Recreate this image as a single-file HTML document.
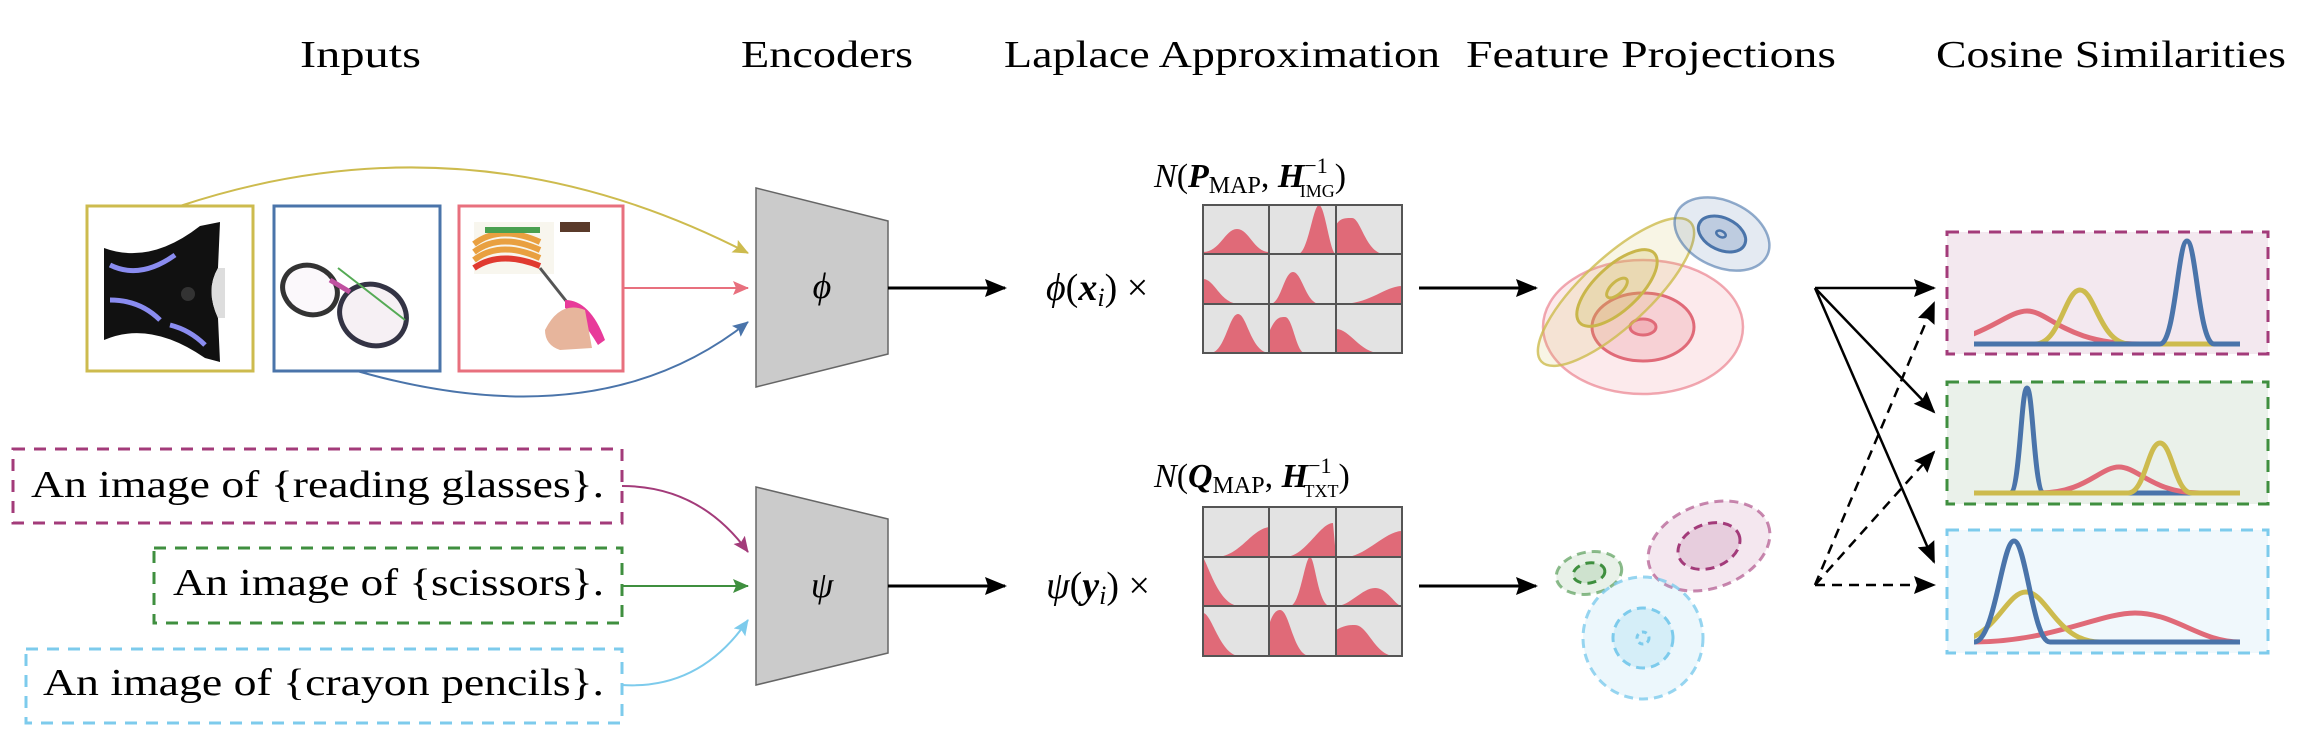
<!DOCTYPE html>
<html><head><meta charset="utf-8"><style>
html,body{margin:0;padding:0;background:#fff;width:2310px;height:742px;overflow:hidden}
text{font-family:"Liberation Serif",serif;fill:#000}
</style></head><body>
<svg width="2310" height="742" viewBox="0 0 2310 742" xmlns="http://www.w3.org/2000/svg">
<defs>
<marker id="ak" markerWidth="10" markerHeight="10" refX="9" refY="5" orient="auto" markerUnits="userSpaceOnUse" viewBox="0 0 10 10"><path d="M0,0 L10,5 L0,10 z" fill="#000"/></marker>
<marker id="akb" markerWidth="22" markerHeight="18" refX="20" refY="9" orient="auto" markerUnits="userSpaceOnUse" viewBox="0 0 22 18"><path d="M0,0 L22,9 L0,18 L3,9 z" fill="#000"/></marker>
<marker id="ay" markerWidth="16" markerHeight="14" refX="15" refY="7" orient="auto" markerUnits="userSpaceOnUse"><path d="M0,0 L16,7 L0,14 L3,7 z" fill="#cdbb4e"/></marker>
<marker id="ab" markerWidth="16" markerHeight="14" refX="15" refY="7" orient="auto" markerUnits="userSpaceOnUse"><path d="M0,0 L16,7 L0,14 L3,7 z" fill="#4a74aa"/></marker>
<marker id="ap" markerWidth="16" markerHeight="14" refX="15" refY="7" orient="auto" markerUnits="userSpaceOnUse"><path d="M0,0 L16,7 L0,14 L3,7 z" fill="#e8707e"/></marker>
<marker id="am" markerWidth="16" markerHeight="14" refX="15" refY="7" orient="auto" markerUnits="userSpaceOnUse"><path d="M0,0 L16,7 L0,14 L3,7 z" fill="#a33b7a"/></marker>
<marker id="ag" markerWidth="16" markerHeight="14" refX="15" refY="7" orient="auto" markerUnits="userSpaceOnUse"><path d="M0,0 L16,7 L0,14 L3,7 z" fill="#3f8f3f"/></marker>
<marker id="ac" markerWidth="16" markerHeight="14" refX="15" refY="7" orient="auto" markerUnits="userSpaceOnUse"><path d="M0,0 L16,7 L0,14 L3,7 z" fill="#7dcbec"/></marker>
<clipPath id="plot1"><rect x="1974" y="230" width="266" height="125"/></clipPath>
<clipPath id="plot2"><rect x="1974" y="380" width="266" height="125"/></clipPath>
<clipPath id="plot3"><rect x="1974" y="528" width="266" height="125"/></clipPath>
</defs>

<!-- Titles -->
<text x="300" y="67" font-size="38" textLength="121" lengthAdjust="spacingAndGlyphs">Inputs</text>
<text x="741" y="67" font-size="38" textLength="172" lengthAdjust="spacingAndGlyphs">Encoders</text>
<text x="1004" y="67" font-size="38" textLength="436" lengthAdjust="spacingAndGlyphs">Laplace Approximation</text>
<text x="1466" y="67" font-size="38" textLength="370" lengthAdjust="spacingAndGlyphs">Feature Projections</text>
<text x="1936" y="67" font-size="38" textLength="350" lengthAdjust="spacingAndGlyphs">Cosine Similarities</text>

<!-- Image boxes -->
<rect x="87" y="206" width="166" height="165" fill="#fff" stroke="#cdbb4e" stroke-width="3"/>
<rect x="274" y="206" width="166" height="165" fill="#fff" stroke="#4a74aa" stroke-width="3"/>
<rect x="459" y="206" width="164" height="165" fill="#fff" stroke="#e8707e" stroke-width="3"/>
<!-- knife-ish -->
<path d="M104,248 Q150,265 200,226 L220,222 L218,268 Q205,290 218,318 L220,362 L205,358 Q150,320 104,340 Z" fill="#111"/>
<path d="M110,265 Q140,280 175,255 M110,300 Q140,300 160,320 M170,325 Q190,330 205,345" stroke="#8a8cf0" stroke-width="5" fill="none"/>
<circle cx="188" cy="294" r="7" fill="#333"/>
<path d="M218,268 Q205,290 218,318 L225,318 L225,268 Z" fill="#ddd"/>
<!-- glasses -->
<ellipse cx="310" cy="290" rx="28" ry="24" fill="#fbf8fb" stroke="#333" stroke-width="5" transform="rotate(25 310 290)"/>
<ellipse cx="373" cy="315" rx="34" ry="30" fill="#f6f0f4" stroke="#334" stroke-width="5" transform="rotate(25 373 315)"/>
<path d="M330,280 L350,292" stroke="#c050a0" stroke-width="5"/>
<path d="M338,268 L405,320" stroke="#5a5" stroke-width="2"/>
<!-- scissors/crayons image -->
<rect x="474" y="222" width="80" height="52" fill="#f8f6ee"/>
<path d="M474,260 Q500,240 540,258 M474,252 Q500,232 540,250 M474,244 Q500,224 540,242" stroke-width="6" fill="none" stroke="#e9a040"/>
<path d="M474,268 Q500,250 540,266" stroke="#e03a30" stroke-width="6" fill="none"/>
<path d="M485,230 L540,230" stroke="#4aa050" stroke-width="6"/>
<rect x="560" y="222" width="30" height="10" fill="#5a3a2a"/>
<path d="M540,268 L578,316" stroke="#555" stroke-width="3"/>
<path d="M565,300 Q590,300 605,340 L598,345 Q580,315 565,308 Z" fill="#e83a9a"/>
<path d="M545,330 Q560,300 585,310 L592,348 L560,350 Q545,345 545,330 Z" fill="#e7b59c"/>

<!-- input arrows -->
<path d="M180,206 Q470,110 748,253" stroke="#cdbb4e" stroke-width="2" fill="none" marker-end="url(#ay)"/>
<path d="M623,288 L748,288" stroke="#e8707e" stroke-width="2" fill="none" marker-end="url(#ap)"/>
<path d="M357,371 Q600,440 748,322" stroke="#4a74aa" stroke-width="2" fill="none" marker-end="url(#ab)"/>

<!-- Encoders -->
<polygon points="756,188 888,221 888,354 756,387" fill="#cbcbcb" stroke="#666" stroke-width="1.5"/>
<text x="822" y="298" font-size="36" font-style="italic" text-anchor="middle">ϕ</text>
<polygon points="756,487 888,519 888,653 756,685" fill="#cbcbcb" stroke="#666" stroke-width="1.5"/>
<text x="822" y="597" font-size="36" font-style="italic" text-anchor="middle">ψ</text>
<path d="M888,288 L1005,288" stroke="#000" stroke-width="3" marker-end="url(#akb)"/>
<path d="M888,586 L1005,586" stroke="#000" stroke-width="3" marker-end="url(#akb)"/>

<!-- Text boxes -->
<rect x="13" y="449" width="609" height="74" fill="none" stroke="#a33b7a" stroke-width="3" stroke-dasharray="12,9"/>
<rect x="154" y="548" width="468" height="75" fill="none" stroke="#3f8f3f" stroke-width="3" stroke-dasharray="12,9"/>
<rect x="26" y="649" width="596" height="74" fill="none" stroke="#7dcbec" stroke-width="3" stroke-dasharray="12,9"/>
<text x="31" y="497" font-size="38" textLength="573" lengthAdjust="spacingAndGlyphs">An image of {reading glasses}.</text>
<text x="173" y="595" font-size="38" textLength="431" lengthAdjust="spacingAndGlyphs">An image of {scissors}.</text>
<text x="43" y="695" font-size="38" textLength="561" lengthAdjust="spacingAndGlyphs">An image of {crayon pencils}.</text>
<path d="M622,486 Q700,486 748,552" stroke="#a33b7a" stroke-width="2" fill="none" marker-end="url(#am)"/>
<path d="M622,586 L748,586" stroke="#3f8f3f" stroke-width="2" fill="none" marker-end="url(#ag)"/>
<path d="M622,685 Q700,690 748,620" stroke="#7dcbec" stroke-width="2" fill="none" marker-end="url(#ac)"/>

<!-- Laplace -->
<text x="1046" y="300" font-size="38"><tspan font-style="italic">ϕ</tspan>(<tspan font-weight="bold" font-style="italic">x</tspan><tspan font-style="italic" font-size="26" dy="6">i</tspan><tspan dy="-6">) ×</tspan></text>
<text x="1046" y="598" font-size="38"><tspan font-style="italic">ψ</tspan>(<tspan font-weight="bold" font-style="italic">y</tspan><tspan font-style="italic" font-size="26" dy="6">i</tspan><tspan dy="-6">) ×</tspan></text>
<text x="1154" y="187" font-size="34"><tspan font-style="italic">N</tspan>(<tspan font-weight="bold" font-style="italic">P</tspan><tspan font-size="24" dy="6">MAP</tspan><tspan dy="-6">, </tspan><tspan font-weight="bold" font-style="italic">H</tspan><tspan font-size="22" dy="-14">−1</tspan><tspan font-size="18" dx="-28" dy="24">IMG</tspan><tspan dy="-10">)</tspan></text>
<text x="1154" y="487" font-size="34"><tspan font-style="italic">N</tspan>(<tspan font-weight="bold" font-style="italic">Q</tspan><tspan font-size="24" dy="6">MAP</tspan><tspan dy="-6">, </tspan><tspan font-weight="bold" font-style="italic">H</tspan><tspan font-size="22" dy="-14">−1</tspan><tspan font-size="18" dx="-28" dy="24">TXT</tspan><tspan dy="-10">)</tspan></text>

<!-- grid top -->
<g>
<rect x="1203" y="205" width="199" height="148" fill="#e3e3e3"/>
<g fill="#e06a78">
<path d="M1203,254 L1203,252 C1220,252 1225,229 1237,229 C1249,229 1254,252 1269,252 L1269,254 Z"/>
<path d="M1298,254 C1308,254 1313,205 1319,205 C1325,205 1330,254 1336,254 Z"/>
<path d="M1336,254 L1336,225 C1340,218 1345,218 1352,218 C1361,218 1366,254 1385,254 Z"/>
<path d="M1203,304 L1203,279 C1215,279 1220,304 1240,304 Z"/>
<path d="M1270,304 C1281,304 1284,272 1293,272 C1302,272 1306,304 1320,304 Z"/>
<path d="M1340,304 C1370,304 1385,286 1402,286 L1402,304 Z"/>
<path d="M1210,353 C1225,353 1229,314 1238,314 C1247,314 1251,353 1270,353 Z"/>
<path d="M1270,353 L1270,330 C1276,317 1280,317 1285,317 C1293,317 1296,353 1305,353 Z"/>
<path d="M1336,353 L1336,329 C1350,329 1360,353 1380,353 Z"/>
</g>
<g stroke="#555" stroke-width="2" fill="none">
<rect x="1203" y="205" width="199" height="148"/>
<path d="M1269,205 V353 M1336,205 V353 M1203,254 H1402 M1203,304 H1402"/>
</g>
</g>
<!-- grid bottom -->
<g>
<rect x="1203" y="507" width="199" height="149" fill="#e3e3e3"/>
<g fill="#e06a78">
<path d="M1215,557 C1240,557 1250,530 1269,527 L1269,557 Z"/>
<path d="M1285,557 C1305,557 1320,523 1333,523 L1336,557 Z"/>
<path d="M1345,557 C1365,557 1385,531 1402,531 L1402,557 Z"/>
<path d="M1203,606 L1203,557 C1210,570 1220,606 1240,606 Z"/>
<path d="M1290,606 C1300,606 1305,557 1310,557 C1315,557 1318,606 1330,606 Z"/>
<path d="M1336,606 C1350,606 1362,588 1375,588 C1388,588 1395,606 1402,606 Z"/>
<path d="M1203,656 L1203,613 C1212,613 1220,656 1240,656 Z"/>
<path d="M1269,656 L1269,625 C1273,612 1277,610 1280,610 C1290,610 1293,656 1310,656 Z"/>
<path d="M1336,656 L1336,630 C1345,625 1350,625 1355,625 C1368,625 1375,656 1395,656 Z"/>
</g>
<g stroke="#555" stroke-width="2" fill="none">
<rect x="1203" y="507" width="199" height="149"/>
<path d="M1269,507 V656 M1336,507 V656 M1203,557 H1402 M1203,606 H1402"/>
</g>
</g>
<path d="M1419,288 L1536,288" stroke="#000" stroke-width="3" marker-end="url(#akb)"/>
<path d="M1419,586 L1536,586" stroke="#000" stroke-width="3" marker-end="url(#akb)"/>

<!-- Feature projections top -->
<g stroke-width="2.5">
<ellipse cx="1643" cy="327" rx="100" ry="67" fill="#e8707e" fill-opacity="0.15" stroke="#e8707e" stroke-opacity="0.6"/>
<ellipse cx="1643" cy="327" rx="51" ry="34" fill="#e8707e" fill-opacity="0.2" stroke="#e06a78" stroke-width="3"/>
<ellipse cx="1643" cy="327" rx="13" ry="8" fill="#e8707e" fill-opacity="0.3" stroke="#e06a78" stroke-width="3"/>
<ellipse cx="1616" cy="292" rx="102" ry="34" transform="rotate(-43 1616 292)" fill="#cdbb4e" fill-opacity="0.15" stroke="#cdbb4e" stroke-opacity="0.8"/>
<ellipse cx="1617" cy="288" rx="51" ry="22" transform="rotate(-43 1617 288)" fill="#cdbb4e" fill-opacity="0.25" stroke="#c9b64a" stroke-width="3"/>
<ellipse cx="1617" cy="288" rx="13" ry="6" transform="rotate(-43 1617 288)" fill="none" stroke="#c9b64a" stroke-width="3"/>
<ellipse cx="1722" cy="234" rx="50" ry="33" transform="rotate(25 1722 234)" fill="#4a74aa" fill-opacity="0.15" stroke="#4a74aa" stroke-opacity="0.6"/>
<ellipse cx="1722" cy="234" rx="25" ry="16" transform="rotate(25 1722 234)" fill="#4a74aa" fill-opacity="0.25" stroke="#4a74aa" stroke-width="3"/>
<ellipse cx="1721" cy="234" rx="5" ry="3" transform="rotate(25 1721 234)" fill="none" stroke="#4a74aa" stroke-width="2.5"/>
</g>
<!-- bottom -->
<g stroke-width="3" stroke-dasharray="9,6">
<ellipse cx="1589" cy="573" rx="33" ry="21" transform="rotate(-10 1589 573)" fill="#3f8f3f" fill-opacity="0.12" stroke="#3f8f3f" stroke-opacity="0.6"/>
<ellipse cx="1589" cy="573" rx="16" ry="10" transform="rotate(-10 1589 573)" fill="#3f8f3f" fill-opacity="0.15" stroke="#3f8f3f"/>
<ellipse cx="1709" cy="546" rx="63" ry="42" transform="rotate(-20 1709 546)" fill="#a33b7a" fill-opacity="0.12" stroke="#a33b7a" stroke-opacity="0.6"/>
<ellipse cx="1709" cy="546" rx="32" ry="22" transform="rotate(-20 1709 546)" fill="#a33b7a" fill-opacity="0.15" stroke="#a33b7a"/>
<ellipse cx="1643" cy="638" rx="60" ry="61" fill="#7dcbec" fill-opacity="0.15" stroke="#7dcbec" stroke-opacity="0.8"/>
<ellipse cx="1643" cy="638" rx="30" ry="30" fill="#7dcbec" fill-opacity="0.2" stroke="#7dcbec"/>
<ellipse cx="1643" cy="638" rx="6" ry="6" fill="none" stroke="#7dcbec" stroke-dasharray="5,4"/>
</g>

<!-- similarity arrows -->
<g stroke="#000" stroke-width="2.5" fill="none">
<path d="M1815,288 L1934,288" marker-end="url(#akb)"/>
<path d="M1815,288 L1934,412" marker-end="url(#akb)"/>
<path d="M1815,288 L1934,562" marker-end="url(#akb)"/>
<path d="M1815,585 L1934,585" stroke-dasharray="10,7" marker-end="url(#akb)"/>
<path d="M1815,585 L1934,452" stroke-dasharray="10,7" marker-end="url(#akb)"/>
<path d="M1815,585 L1934,303" stroke-dasharray="10,7" marker-end="url(#akb)"/>
</g>

<!-- similarity boxes -->
<rect x="1947" y="232" width="321" height="122" fill="#f3e8ef" stroke="#a33b7a" stroke-width="3" stroke-dasharray="12,9"/>
<rect x="1947" y="382" width="321" height="122" fill="#eaf1ea" stroke="#3f8f3f" stroke-width="3" stroke-dasharray="12,9"/>
<rect x="1947" y="530" width="321" height="123" fill="#f0f8fc" stroke="#7dcbec" stroke-width="3" stroke-dasharray="12,9"/>

<g fill="none" stroke-width="5" stroke-linecap="round">
<g clip-path="url(#plot1)">
<path d="M1920,344 C1980,344 2005,311 2027,311 C2049,311 2065,344 2140,344 L2240,344" stroke="#e06a78"/>
<path d="M1974,344 L2035,344 C2060,344 2065,290 2080,290 C2095,290 2100,344 2130,344 L2240,344" stroke="#cdbb4e"/>
<path d="M1974,344 L2160,344 C2175,344 2178,241 2187,241 C2196,241 2199,344 2214,344 L2240,344" stroke="#4a74aa"/>
</g>
<g clip-path="url(#plot2)">
<path d="M1974,493 L2010,493 C2020,493 2021,388 2027,388 C2033,388 2034,493 2044,493" stroke="#4a74aa"/>
<path d="M2100,493 L2240,493" stroke="#4a74aa"/>
<path d="M2040,493 C2085,493 2100,467 2119,467 C2138,467 2153,493 2200,493" stroke="#e06a78"/>
<path d="M1974,493 L2128,493 C2145,493 2148,443 2160,443 C2172,443 2175,493 2192,493 L2240,493" stroke="#cdbb4e"/>
</g>
<g clip-path="url(#plot3)">
<path d="M1974,642 C2050,642 2100,613 2135,613 C2175,613 2200,642 2240,642" stroke="#e06a78"/>
<path d="M1950,642 C1995,642 2005,592 2026,592 C2047,592 2057,642 2100,642" stroke="#cdbb4e"/>
<path d="M1974,642 C1995,642 2002,541 2014,541 C2026,541 2033,642 2050,642 L2240,642" stroke="#4a74aa"/>
</g>
</g>
</svg>
</body></html>
